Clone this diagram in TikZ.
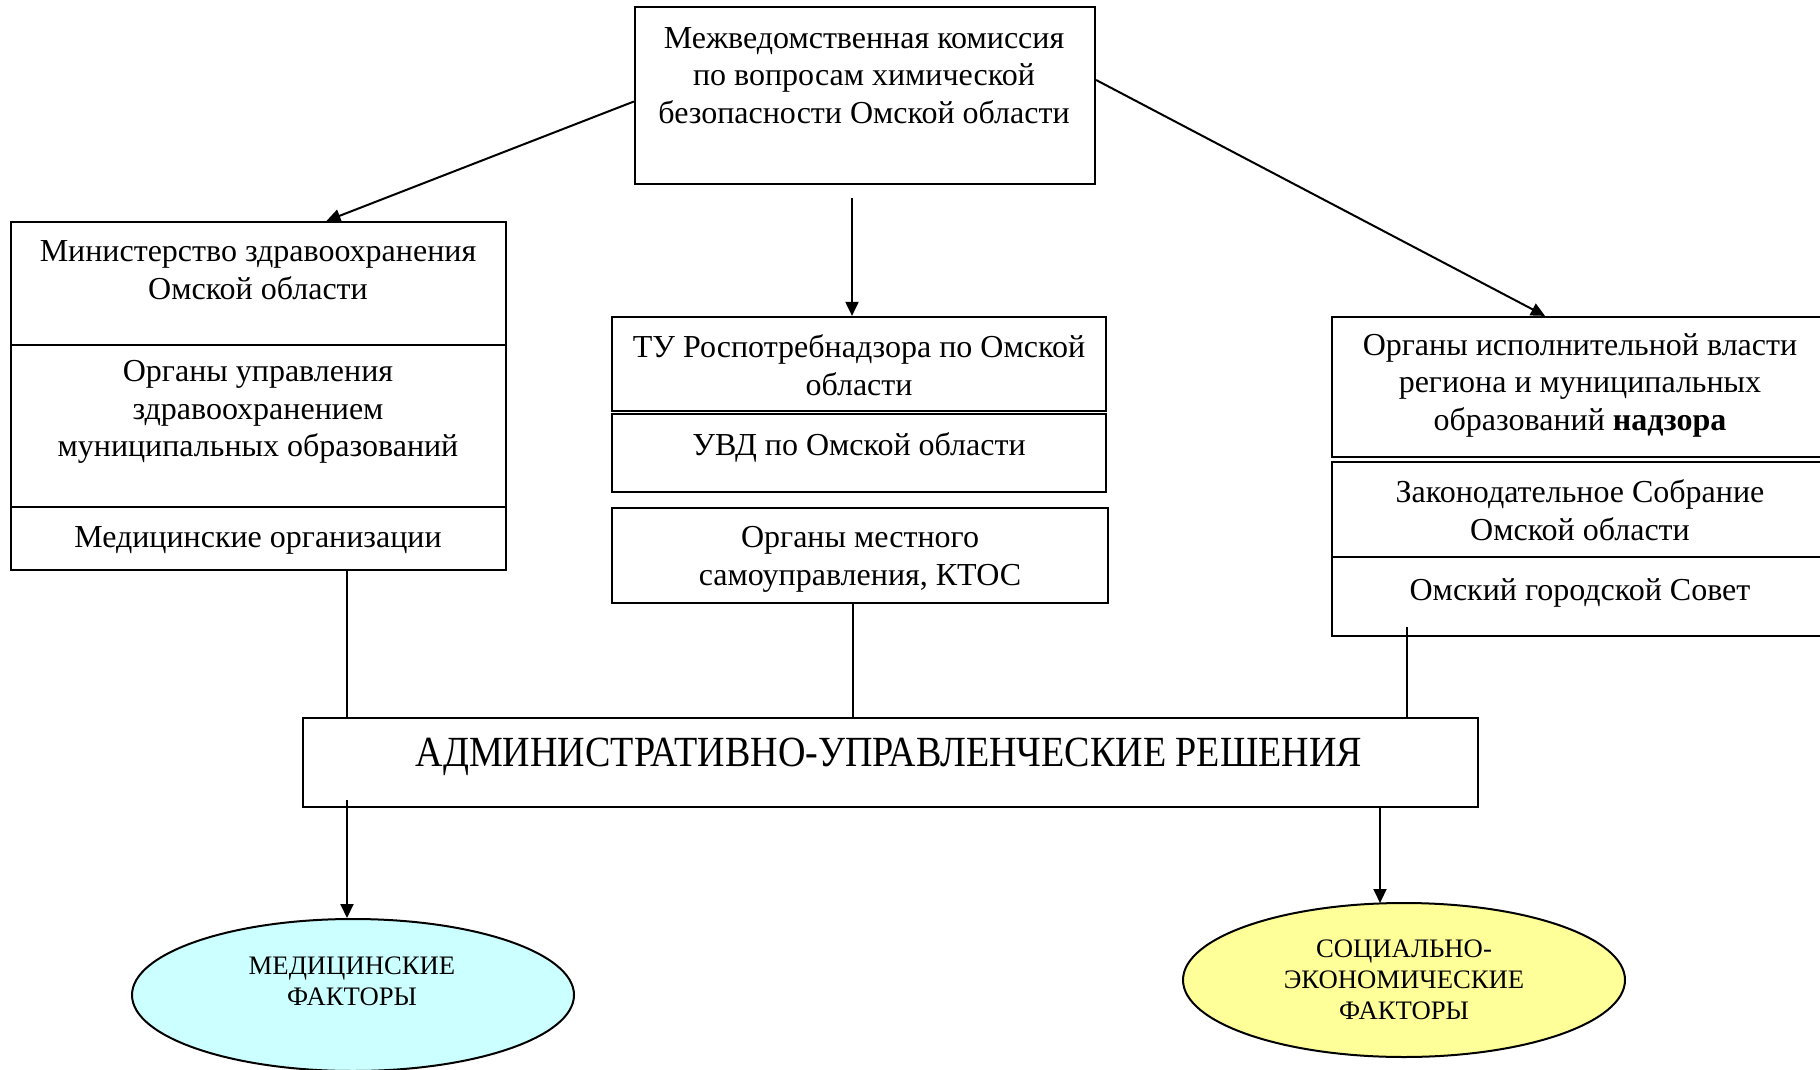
\documentclass[tikz,border=0pt]{standalone}
\usepackage{fontspec}
\usepackage{graphicx}
\setmainfont{Liberation Serif}
\usetikzlibrary{arrows.meta,shapes.geometric}
\definecolor{cyanfill}{HTML}{CCFFFF}
\definecolor{yelfill}{HTML}{FFFF99}
\begin{document}
\begin{tikzpicture}[x=1pt,y=-1pt,
  box/.style={draw,line width=2.2pt,inner sep=0pt},
  txt/.style={align=center,inner sep=0pt,font=\fontsize{32}{37.5}\selectfont},
  etxt/.style={align=center,inner sep=0pt,font=\fontsize{26.7}{31}\selectfont},
  ell/.style={draw,line width=2pt,ellipse,inner sep=0pt},
  arr/.style={line width=2pt,-{Triangle[length=14pt,width=13pt]}},
  conn/.style={line width=1.6pt}]
\useasboundingbox (0,0) rectangle (1820,1070);
% boxes
\node[box,minimum width=460pt,minimum height=177pt] (top) at (865,95.5) {};
\node[box,minimum width=495pt,minimum height=123pt] (lA) at (258.5,283.5) {};
\node[box,minimum width=495pt,minimum height=162pt] (lB) at (258.5,426) {};
\node[box,minimum width=495pt,minimum height=63pt] (lC) at (258.5,538.5) {};
\node[box,minimum width=494pt,minimum height=94pt] (cA) at (859,364) {};
\node[box,minimum width=494pt,minimum height=78pt] (cB) at (859,453) {};
\node[box,minimum width=496pt,minimum height=95pt] (cC) at (860,555.5) {};
\node[box,minimum width=498pt,minimum height=140pt] (rA) at (1581,387) {};
\node[box,minimum width=498pt,minimum height=95pt] (rB) at (1581,509.5) {};
\node[box,minimum width=498pt,minimum height=79pt] (rC) at (1581,596.5) {};
\node[box,minimum width=1175pt,minimum height=89pt] (adm) at (890.5,762.5) {};
\node[ell,fill=cyanfill,minimum width=442pt,minimum height=152pt] (eL) at (353,995) {};
\node[ell,fill=yelfill,minimum width=442pt,minimum height=154pt] (eR) at (1404,980) {};
% texts
\node[txt] (tTop) at (864,75.5) {Межведомственная комиссия\\по вопросам химической\\безопасности Омской области};
\node[txt] (tlA) at (258,270) {Министерство здравоохранения\\Омской области};
\node[txt] (tlB) at (258,412) {Органы управления\\здравоохранением\\муниципальных образований};
\node[txt] (tlC) at (258,540.5) {Медицинские организации};
\node[txt] (tcA) at (859,365) {ТУ Роспотребнадзора по Омской\\области};
\node[txt] (tcB) at (859,447) {УВД по Омской области};
\node[txt] (tcC) at (860,559.5) {Органы местного\\самоуправления, КТОС};
\node[txt] (trA) at (1580,385) {Органы исполнительной власти\\региона и муниципальных\\образований \textbf{надзора}};
\node[txt] (trB) at (1580,510) {Законодательное Собрание\\Омской области};
\node[txt] (trC) at (1580,592.5) {Омский городской Совет};
\node[inner sep=0pt,font=\fontsize{43}{48}\selectfont] (tAdm) at (889,757) {\scalebox{0.885}[1]{АДМИНИСТРАТИВНО-УПРАВЛЕНЧЕСКИЕ РЕШЕНИЯ}};
\node[etxt] (teL) at (352,981) {МЕДИЦИНСКИЕ\\ФАКТОРЫ};
\node[etxt] (teR) at (1404,980) {СОЦИАЛЬНО-\\ЭКОНОМИЧЕСКИЕ\\ФАКТОРЫ};
% connectors
\draw[arr] ([yshift=-6pt]top.west) -- ([xshift=68pt]lA.north);
\draw[arr] ([xshift=-13pt,yshift=-13pt]top.south) -- ([xshift=-7pt]cA.north);
\draw[arr] ([yshift=15.5pt]top.east) -- ([xshift=-36pt]rA.north);
\coordinate (l1) at ([xshift=88.5pt]lC.south);
\draw[conn] (l1) -- (l1 |- adm.north);
\coordinate (l2) at ([xshift=-7pt]cC.south);
\draw[conn] (l2) -- (l2 |- adm.north);
\coordinate (l3) at ([xshift=-174pt,yshift=10pt]rC.south);
\draw[conn] (l3) -- (l3 |- adm.north);
\coordinate (a1) at ([xshift=-6pt]eL.north);
\draw[arr] (a1 |- 0,800) -- (a1);
\coordinate (a2) at ([xshift=-24pt,yshift=-1pt]eR.north);
\draw[arr] (a2 |- adm.south) -- (a2);
\end{tikzpicture}
\end{document}
